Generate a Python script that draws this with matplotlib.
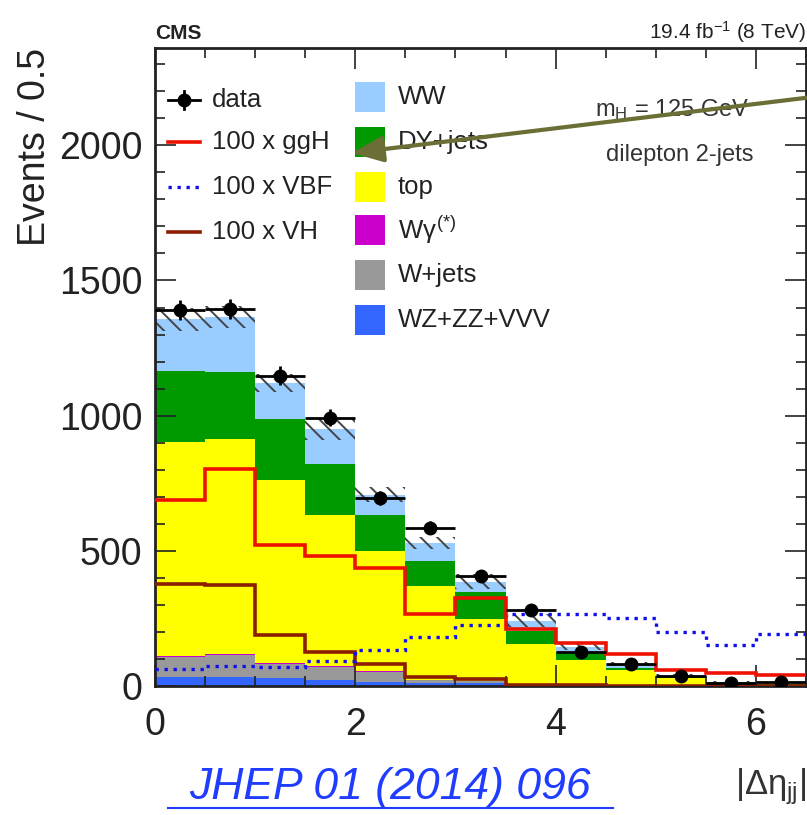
import numpy as np
import matplotlib
matplotlib.use("Agg")
import matplotlib.pyplot as plt
from matplotlib.lines import Line2D
from matplotlib.patches import Rectangle, FancyArrowPatch
from matplotlib.ticker import MultipleLocator

plt.rcParams['font.family'] = 'Liberation Sans'
plt.rcParams['mathtext.fontset'] = 'custom'
plt.rcParams['mathtext.rm'] = 'Liberation Sans'
plt.rcParams['mathtext.it'] = 'Liberation Sans'
plt.rcParams['mathtext.bf'] = 'Liberation Sans:bold'
plt.rcParams['hatch.linewidth'] = 1.4

# =====[ |delta eta_jj| distribution, dilepton 2-jet category ]=====

edges = [0.0, 0.5, 1.0, 1.5, 2.0, 2.5, 3.0, 3.5, 4.0, 4.5, 5.0, 5.5, 6.0, 6.5]

# background stack, bottom to top (events per bin)
wz_zz_vvv = [32, 32, 28, 22, 16, 12, 10, 3, 2, 1, 1, 0.5, 0.3]
w_jets = [75, 81, 52, 49, 37, 10, 8, 2, 1, 1, 0.5, 0.5, 0.2]
w_gamma = [3, 7, 5, 3, 3, 2, 1, 1, 0.5, 0.5, 0.5, 0.2, 0.1]
top = [793, 793, 676, 559, 442, 346, 229, 150, 91, 56, 28, 9, 4.4]
dy_jets = [264, 247, 226, 189, 135, 94, 101, 49, 31, 9, 5, 4, 2]
ww = [190, 205, 134, 128, 74, 66, 36, 37, 19, 15, 5, 2, 1]
bkg_unc = [42, 42, 33, 40, 28, 22, 28, 25, 12, 8, 5, 3, 2]

# signals scaled by 100
ggh_x100 = [687, 803, 523, 480, 435, 266, 325, 211, 160, 117, 59, 49, 40]
vbf_x100 = [63, 75, 71, 94, 133, 181, 226, 266, 266, 252, 199, 150, 193]
vh_x100 = [376, 374, 190, 127, 83, 34, 26, 4, 2, 1, 0.5, 0.3, 0.2]

data = [1390, 1395, 1148, 993, 696, 586, 407, 282, 126, 81, 38, 12, 15]

stack = [
    ('WZ+ZZ+VVV', wz_zz_vvv, '#3366ff'),
    ('W+jets', w_jets, '#999999'),
    (r'W$\gamma^{(*)}$', w_gamma, '#cc00cc'),
    ('top', top, '#ffff00'),
    ('DY+jets', dy_jets, '#009900'),
    ('WW', ww, '#99ccff'),
]

W, H = 807, 815

def fx(px):
    return px / W

def fy(py):
    return 1 - py / H

fig = plt.figure(figsize=(W / 100, H / 100), dpi=100)
ax = fig.add_axes([fx(155), fy(686), fx(806) - fx(155), fy(48) - fy(686)])

edges = np.array(edges)
base = np.zeros(len(edges) - 1)
for name, vals, col in stack:
    vals = np.array(vals, dtype=float)
    ax.stairs(base + vals, edges, baseline=base.copy(), fill=True,
              color=col, lw=0, zorder=1)
    base = base + vals

total = base
unc = np.array(bkg_unc, dtype=float)
ax.stairs(total + unc, edges, baseline=total - unc, fill=True,
          facecolor='none', edgecolor='#444444', lw=0, hatch='\\\\', zorder=1.2)

ax.stairs(vh_x100, edges, baseline=None, color='#8b1e00', lw=2.6, zorder=3)
ax.stairs(vbf_x100, edges, baseline=None, color='#1010ee', lw=2.4,
          linestyle=(0, (1, 1.7)), zorder=3)
ax.stairs(ggh_x100, edges, baseline=None, color='#ee1100', lw=2.6, zorder=3)

centers = 0.5 * (edges[:-1] + edges[1:])
data = np.array(data, dtype=float)
ax.errorbar(centers, data, xerr=0.25, yerr=np.sqrt(data), fmt='o',
            color='black', ms=9, elinewidth=2, capsize=0, zorder=4)

ax.set_xlim(0, 6.5)
ax.set_ylim(0, 2360)
ax.xaxis.set_major_locator(MultipleLocator(2))
ax.xaxis.set_minor_locator(MultipleLocator(0.5))
ax.yaxis.set_major_locator(MultipleLocator(500))
ax.yaxis.set_minor_locator(MultipleLocator(100))
ax.tick_params(which='both', direction='in', top=True, right=True,
               width=1.2, colors='#222222', labelsize=27)
ax.tick_params(which='major', length=15)
ax.tick_params(which='minor', length=7.5)
ax.tick_params(axis='x', pad=15)
ax.tick_params(axis='y', pad=9)
for s in ax.spines.values():
    s.set_linewidth(2)
    s.set_color('#222222')

fig.text(fx(35), fy(48), 'Events / 0.5', rotation=90, ha='center', va='top',
         fontsize=27, color='#222222')
fig.text(fx(806), fy(794), r'$|\Delta\eta_{jj}|$', ha='right', va='baseline',
         fontsize=25, color='#333333')
fig.text(fx(155), fy(39), 'CMS', ha='left', va='baseline', fontsize=15,
         fontweight='bold', color='#222222')
fig.text(fx(806), fy(39), r'19.4 fb$^{-1}$ (8 TeV)', ha='right', va='baseline',
         fontsize=15, color='#222222')
fig.text(fx(672), fy(110), r'm$_{H}$ = 125 GeV', ha='center', va='center',
         fontsize=17, color='#333333')
fig.text(fx(680), fy(155), 'dilepton 2-jets', ha='center', va='center',
         fontsize=17, color='#333333')

# legend, left column: data and signals
lx0, lx1, ltx = 168, 200, 212
rows_left = [100, 142, 187, 232]
fig.add_artist(Line2D([fx(lx0), fx(lx1)], [fy(rows_left[0])] * 2, color='black',
                      lw=2, transform=fig.transFigure))
fig.add_artist(Line2D([fx(184)] * 2, [fy(rows_left[0] - 9), fy(rows_left[0] + 9)],
                      color='black', lw=2, transform=fig.transFigure))
fig.add_artist(Line2D([fx(184)], [fy(rows_left[0])], marker='o', ms=9,
                      color='black', transform=fig.transFigure))
fig.add_artist(Line2D([fx(lx0), fx(lx1)], [fy(rows_left[1])] * 2, color='#ee1100',
                      lw=2.6, transform=fig.transFigure))
fig.add_artist(Line2D([fx(lx0), fx(lx1)], [fy(rows_left[2])] * 2, color='#1010ee',
                      lw=2.4, linestyle=(0, (1, 1.7)), transform=fig.transFigure))
fig.add_artist(Line2D([fx(lx0), fx(lx1)], [fy(rows_left[3])] * 2, color='#8b1e00',
                      lw=2.6, transform=fig.transFigure))
for y, lab in zip(rows_left, ['data', '100 x ggH', '100 x VBF', '100 x VH']):
    fig.text(fx(ltx), fy(y), lab, ha='left', va='center', fontsize=18.5,
             color='#222222')

# legend, right column: backgrounds
rows_right = [97, 142, 187, 230, 275, 320]
for y, (name, vals, col) in zip(rows_right, stack[::-1]):
    fig.add_artist(Rectangle((fx(355), fy(y + 15)), fx(385) - fx(355),
                             fy(y - 15) - fy(y + 15), facecolor=col, lw=0,
                             transform=fig.transFigure))
    fig.text(fx(398), fy(y), name, ha='left', va='center', fontsize=18.5,
             color='#222222')

arrow = FancyArrowPatch((fx(840), fy(93.7)), (fx(352), fy(153)),
                        transform=fig.transFigure,
                        arrowstyle='-|>,head_length=19,head_width=8',
                        mutation_scale=1, lw=3, color='#6b6f36',
                        shrinkA=0, shrinkB=0, zorder=10)
fig.add_artist(arrow)

fig.text(fx(390), fy(788), 'JHEP 01 (2014) 096', ha='center', va='center',
         style='italic', fontsize=32, color='#1f3cff')
fig.add_artist(Line2D([fx(168), fx(613)], [fy(808)] * 2, color='#1f3cff', lw=1.5,
                      transform=fig.transFigure))

fig.savefig('out.png', dpi=100)
